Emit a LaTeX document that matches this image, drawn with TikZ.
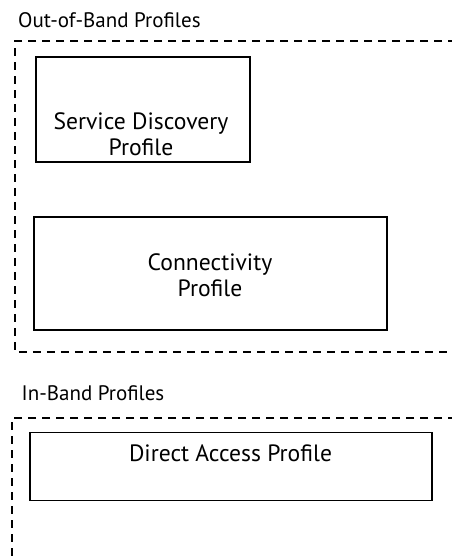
\documentclass[tikz,border=0pt]{standalone}
\usepackage{fontspec}
\setmainfont{PT Sans}
\begin{document}
\begin{tikzpicture}[x=1pt,y=-1pt,
  group/.style={draw,line width=1.4pt,dash pattern=on 8pt off 6pt},
  profile/.style={draw,line width=1.4pt},
  boxtext/.style={anchor=base,inner sep=0pt,align=center,font=\fontsize{23.6}{26}\selectfont},
  grouplabel/.style={anchor=base west,inner sep=0pt,font=\fontsize{21}{24}\selectfont}]
\useasboundingbox (0,0) rectangle (452,558);

% out-of-band group
\node[grouplabel] (oobl) at (18,27.7) {Out-of-Band Profiles};
\draw[group] (470,41) -- (15,41) -- (15,352) -- (470,352);
\draw[profile] (36,57) rectangle (250,162);
\node[boxtext] (sdp) at (141,155.5) {Service Discovery\\Profile};
\draw[profile] (34,217) rectangle (387,330);
\node[boxtext] (cp) at (210,296) {Connectivity\\Profile};

% in-band group
\node[grouplabel] (ibl) at (21.5,400) {In-Band Profiles};
\draw[group] (470,418) -- (12,418) -- (12,570);
\draw[profile] (30,432.5) rectangle (432,500.5);
\node[boxtext] (dap) at (230.5,461.7) {Direct Access Profile};
\end{tikzpicture}
\end{document}
